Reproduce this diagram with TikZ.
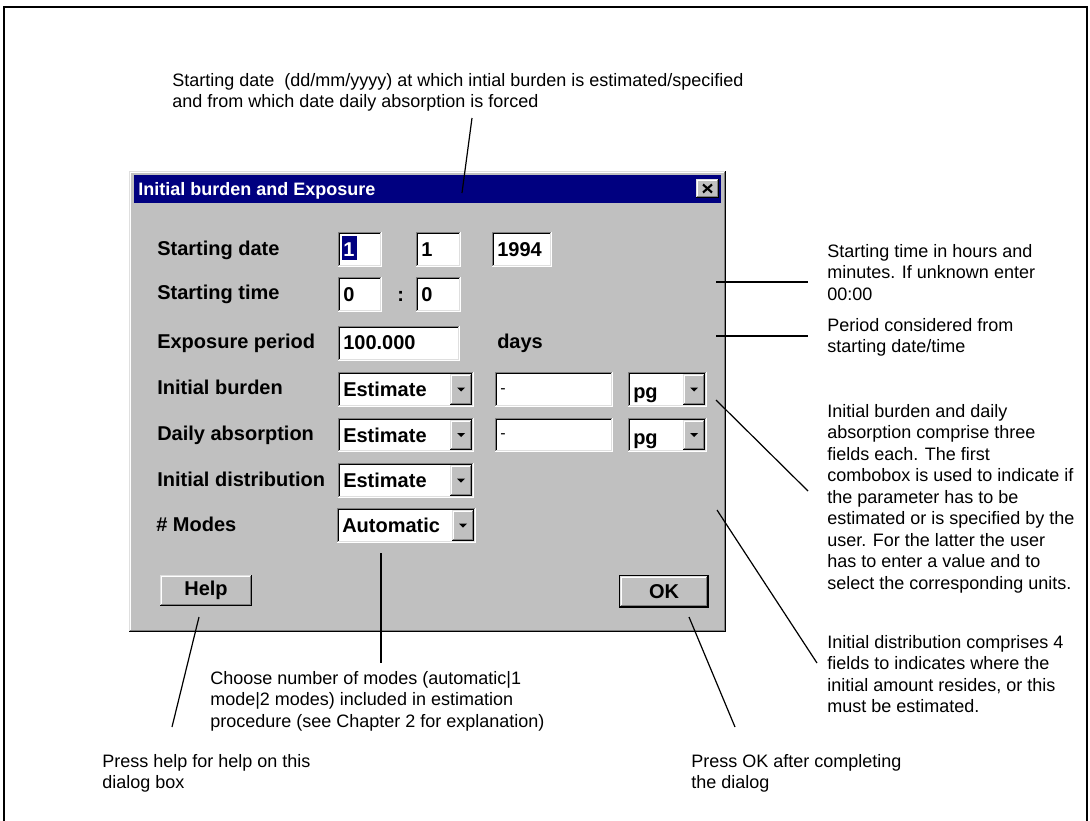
\documentclass[tikz,border=0pt]{standalone}
\usepackage{fontspec}
\setmainfont{Liberation Sans}
\definecolor{wingray}{HTML}{C0C0C0}
\definecolor{winnavy}{HTML}{000080}
\definecolor{windark}{HTML}{808080}
\definecolor{winlight}{HTML}{DFDFDF}

\tikzset{
  px/.style={line width=0.75pt},
  leader/.style={line width=0.9pt, black},
  note/.style={anchor=north west, inner sep=0pt, align=left,
    font=\fontsize{13.5}{16.1}\selectfont},
  dlglabel/.style={anchor=base west, inner sep=0pt,
    font=\fontsize{15}{18}\selectfont\bfseries},
  btnlabel/.style={inner sep=0pt, font=\fontsize{15}{18}\selectfont\bfseries},
}

% sunken edit field: x1 y1 x2 y2 (pixel units, y downwards)
\newcommand{\sunkenfield}[4]{%
  \fill[white] (#1,#2) rectangle (#3,#4);
  \draw[px,windark] (#1+0.5,#4-1) -- (#1+0.5,#2+0.5) -- (#3-1,#2+0.5);
  \draw[px,black] (#1+1.5,#4-2) -- (#1+1.5,#2+1.5) -- (#3-2,#2+1.5);
  \draw[px,white] (#1,#4-0.5) -- (#3-0.5,#4-0.5) -- (#3-0.5,#2);
  \draw[px,winlight] (#1+1,#4-1.5) -- (#3-1.5,#4-1.5) -- (#3-1.5,#2+1);
}
% raised panel / button
\newcommand{\raisedpanel}[4]{%
  \fill[wingray] (#1,#2) rectangle (#3,#4);
  \draw[px,winlight] (#1+0.5,#4-1) -- (#1+0.5,#2+0.5) -- (#3-1,#2+0.5);
  \draw[px,white] (#1+1.5,#4-2) -- (#1+1.5,#2+1.5) -- (#3-2,#2+1.5);
  \draw[px,black] (#1,#4-0.5) -- (#3-0.5,#4-0.5) -- (#3-0.5,#2);
  \draw[px,windark] (#1+1,#4-1.5) -- (#3-1.5,#4-1.5) -- (#3-1.5,#2+1);
}
% drop-down arrow button
\newcommand{\dropbtn}[4]{%
  \raisedpanel{#1}{#2}{#3}{#4}
  \fill[black] ({(#1+#3)/2-4},{(#2+#4)/2-2}) -- ({(#1+#3)/2+4},{(#2+#4)/2-2})
    -- ({(#1+#3)/2},{(#2+#4)/2+2}) -- cycle;
}
% combo box: field plus arrow button
\newcommand{\combo}[4]{%
  \sunkenfield{#1}{#2}{#3}{#4}
  \dropbtn{#3-24}{#2+2}{#3-2}{#4-2}
}

\begin{document}
\begin{tikzpicture}[x=0.75pt,y=-0.75pt]
\useasboundingbox (0,0) rectangle (1090,821);
\fill[white] (0,0) rectangle (1090,821);

% page frame
\draw[line width=1.3pt] (4,821) -- (4,7) -- (1087,7) -- (1087,821);

% ---- dialog window ----
\raisedpanel{129}{171}{726}{632}
\fill[winnavy] (134,175) rectangle (721,203);
\node[anchor=base west, inner sep=0pt, text=white,
  font=\fontsize{13.5}{16}\selectfont\bfseries] (title) at (138,195) {Initial burden and Exposure};
\raisedpanel{696}{179}{719}{198}
\draw[line width=1.6pt] (703,184.5) -- (712,192.5) (712,184.5) -- (703,192.5);

% labels
\node[dlglabel] (lDate)  at (157,255) {Starting date};
\node[dlglabel] (lTime)  at (157,299) {Starting time};
\node[dlglabel] (lExp)   at (157,348) {Exposure period};
\node[dlglabel] (lBurd)  at (157,394) {Initial burden};
\node[dlglabel] (lDaily) at (157,440) {Daily absorption};
\node[dlglabel] (lDist)  at (157,486) {Initial distribution};
\node[dlglabel] (lModes) at (156,531) {\# Modes};

% starting date
\sunkenfield{338}{232}{382}{267}
\fill[winnavy] (342,236) rectangle (357,260);
\node[dlglabel, text=white] (dDay) at (343,256) {1};
\sunkenfield{416}{232}{461}{267}
\node[dlglabel] (dMonth) at (421,256) {1};
\sunkenfield{492}{232}{552}{267}
\node[dlglabel] (dYear) at (497,256) {1994};

% starting time
\sunkenfield{338}{277}{382}{312}
\node[dlglabel] (tHour) at (343,301) {0};
\node[dlglabel] (tColon) at (397,301) {:};
\sunkenfield{416}{277}{461}{312}
\node[dlglabel] (tMin) at (421,301) {0};

% exposure period
\sunkenfield{338}{326}{460}{361}
\node[dlglabel] (expVal) at (343,349) {100.000};
\node[dlglabel] (expUnit) at (497,348) {days};

% initial burden
\combo{338}{372}{474}{407}
\node[dlglabel] (bMode) at (343,396) {Estimate};
\sunkenfield{495}{372}{613}{407}
\node[anchor=base west, inner sep=0pt, font=\fontsize{12}{14}\selectfont] (bVal) at (500,393) {-};
\combo{628}{372}{707}{407}
\node[dlglabel] (bUnit) at (633,398) {pg};

% daily absorption
\combo{338}{418}{474}{452}
\node[dlglabel] (aMode) at (343,442) {Estimate};
\sunkenfield{495}{418}{613}{452}
\node[anchor=base west, inner sep=0pt, font=\fontsize{12}{14}\selectfont] (aVal) at (500,438) {-};
\combo{628}{418}{707}{452}
\node[dlglabel] (aUnit) at (633,444) {pg};

% initial distribution
\combo{338}{463}{474}{498}
\node[dlglabel] (iMode) at (343,487) {Estimate};

% modes
\combo{337}{508}{476}{543}
\node[dlglabel] (mMode) at (342,532) {Automatic};

% buttons
\raisedpanel{160}{575}{252}{606}
\node[btnlabel] (help) at (206,590.5) {Help};
\draw[px,black] (619.5,575.5) rectangle (708.5,607.5);
\raisedpanel{620}{576}{708}{607}
\node[btnlabel] (ok) at (664,591.5) {OK};

% ---- annotations ----
\node[note] (nTop) at (172,73) {Starting date~ (dd/mm/yyyy) at which intial burden is estimated/specified\\and from which date daily absorption is forced};
\node[note] (nTime) at (827,244) {Starting time in hours and\\minutes. If unknown enter\\00:00};
\node[note] (nPeriod) at (827,318) {Period considered from\\starting date/time};
\node[note] (nBurden) at (827,404) {Initial burden and daily\\absorption comprise three\\fields each. The first\\combobox is used to indicate if\\the parameter has to be\\estimated or is specified by the\\user. For the latter the user\\has to enter a value and to\\select the corresponding units.};
\node[note] (nDist) at (827,635) {Initial distribution comprises 4\\fields to indicates where the\\initial amount resides, or this\\must be estimated.};
\node[note] (nModes) at (210,671) {Choose number of modes (automatic|1\\mode|2 modes) included in estimation\\procedure (see Chapter 2 for explanation)};
\node[note] (nHelp) at (102,754) {Press help for help on this\\dialog box};
\node[note] (nOk) at (691,754) {Press OK after completing\\the dialog};

% ---- leader lines ----
\coordinate (cTopA) at (472,118);   \coordinate (cTopB) at (462,193);
\coordinate (cTimeA) at (716,282);  \coordinate (cTimeB) at (808,282);
\coordinate (cPerA) at (716,336);   \coordinate (cPerB) at (808,336);
\coordinate (cBurA) at (716,400);   \coordinate (cBurB) at (808,491);
\coordinate (cDisA) at (717,510);   \coordinate (cDisB) at (817,663);
\coordinate (cModA) at (381,553);   \coordinate (cModB) at (381,663);
\coordinate (cHlpA) at (199,617);   \coordinate (cHlpB) at (172,727);
\coordinate (cOkA) at (689,617);    \coordinate (cOkB) at (735,727);
\draw[leader] (cTopA) -- (cTopB);
\draw[leader] (cTimeA) -- (cTimeB);
\draw[leader] (cPerA) -- (cPerB);
\draw[leader] (cBurA) -- (cBurB);
\draw[leader] (cDisA) -- (cDisB);
\draw[leader] (cModA) -- (cModB);
\draw[leader] (cHlpA) -- (cHlpB);
\draw[leader] (cOkA) -- (cOkB);
\end{tikzpicture}
\end{document}
